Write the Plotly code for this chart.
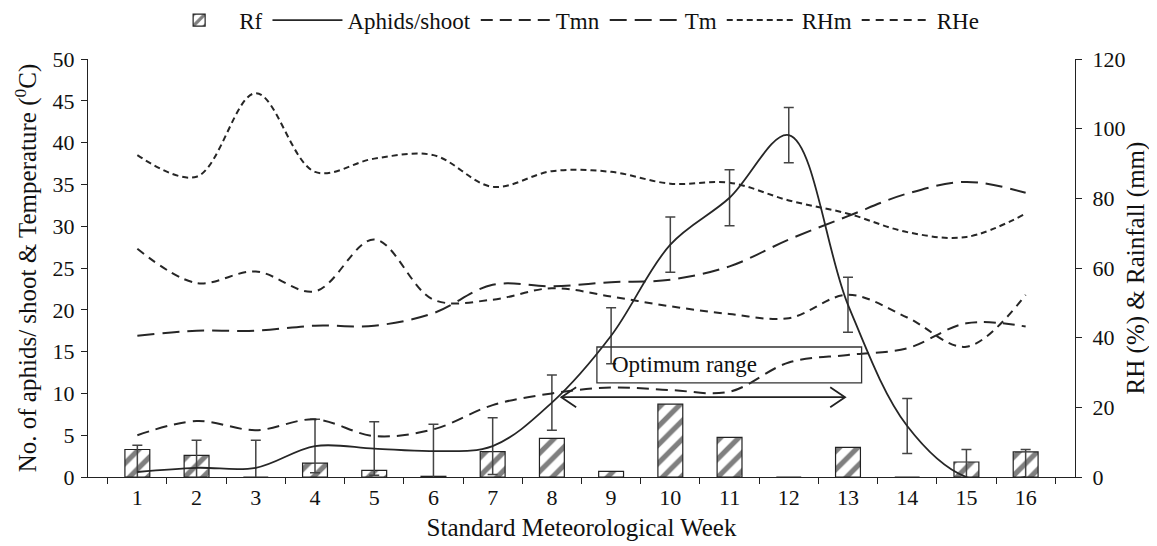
import plotly.graph_objects as go

weeks = [str(i) for i in range(1, 17)]
rainfall = [7.9, 6.2, 0, 4.0, 1.9, 0.2, 7.3, 11.1, 1.6, 20.9, 11.4, 0, 8.5, 0, 4.3, 7.2]
aphids = [0.6, 1.1, 1.1, 3.7, 3.4, 3.1, 3.7, 8.9, 16.9, 27.8, 33.4, 40.9, 20.6, 6.1, 0.0, 0.0]
aphids_err = [3.2, 3.3, 3.3, 3.2, 3.2, 3.2, 3.4, 3.3, 3.35, 3.3, 3.35, 3.3, 3.3, 3.3, 3.3, 3.3]
tmn = [5.0, 6.7, 5.6, 6.9, 4.9, 5.7, 8.6, 10.0, 10.7, 10.4, 10.2, 13.7, 14.6, 15.4, 18.4, 18.0]
tm = [16.9, 17.5, 17.5, 18.1, 18.1, 19.6, 23.0, 22.8, 23.3, 23.6, 25.2, 28.4, 31.2, 33.9, 35.3, 34.0]
rhm = [92.4, 86.2, 110.2, 87.6, 91.4, 92.4, 83.3, 87.8, 87.6, 84.2, 84.5, 79.4, 75.6, 70.3, 68.9, 75.6]
rhe = [65.5, 55.7, 59.0, 53.3, 68.2, 50.9, 50.9, 54.2, 51.8, 49.0, 46.8, 45.6, 52.3, 45.8, 37.4, 52.3]

FONT = "Liberation Serif, Times New Roman, serif"
LC = "#262626"
TICK = 22
TITLE = 25

fig = go.Figure()
fig.add_trace(go.Bar(
    x=weeks, y=rainfall, name="Rf", yaxis="y2", width=0.42,
    marker=dict(color="white", line=dict(color="#222", width=1.2),
                pattern=dict(shape="/", fgcolor="#000", bgcolor="white", size=13, solidity=0.4)),
))
fig.add_trace(go.Scatter(
    x=weeks, y=aphids, name="Aphids/shoot", mode="lines", yaxis="y",
    line=dict(color=LC, width=1.8, shape="spline", smoothing=1.0),
    error_y=dict(type="data", array=aphids_err, visible=True, color="#444", thickness=1.5, width=5),
))
fig.add_trace(go.Scatter(
    x=weeks, y=tmn, name="Tmn", mode="lines", yaxis="y",
    line=dict(color=LC, width=2, dash="12px,7px", shape="spline", smoothing=1.0),
))
fig.add_trace(go.Scatter(
    x=weeks, y=tm, name="Tm", mode="lines", yaxis="y",
    line=dict(color=LC, width=2, dash="17px,8px", shape="spline", smoothing=1.0),
))
fig.add_trace(go.Scatter(
    x=weeks, y=rhm, name="RHm", mode="lines", yaxis="y2",
    line=dict(color=LC, width=2, dash="6px,4px", shape="spline", smoothing=1.0),
))
fig.add_trace(go.Scatter(
    x=weeks, y=rhe, name="RHe", mode="lines", yaxis="y2",
    line=dict(color=LC, width=2, dash="8px,6px", shape="spline", smoothing=1.0),
))

# Optimum range box, label and double arrow (annotation, not data)
shapes = [
    dict(type="rect", xref="x", yref="y", x0=7.76, x1=12.23, y0=11.25, y1=15.55,
         line=dict(color="#333", width=1.3), fillcolor="rgba(0,0,0,0)"),
    dict(type="line", xref="x", yref="y", x0=7.16, x1=11.95, y0=9.55, y1=9.55,
         line=dict(color="#222", width=1.8)),
    dict(type="path", xref="x", yref="y",
         path="M 7.41 10.75 L 7.16 9.55 L 7.41 8.35", line=dict(color="#222", width=1.8)),
    dict(type="path", xref="x", yref="y",
         path="M 11.70 10.75 L 11.95 9.55 L 11.70 8.35", line=dict(color="#222", width=1.8)),
]
annotations = [
    dict(text="Optimum range", xref="x", yref="y", x=7.98, y=13.4, xanchor="left",
         yanchor="middle", showarrow=False, font=dict(family=FONT, size=23, color="#111")),
]

fig.update_layout(
    width=1149, height=538,
    margin=dict(l=80, r=82, t=51, b=69, autoexpand=False),
    paper_bgcolor="white", plot_bgcolor="white",
    font=dict(family=FONT, size=TICK, color="#111"),
    showlegend=True,
    legend=dict(orientation="h", x=0.49, xanchor="center", y=1.093, yanchor="middle",
                yref="paper", font=dict(family=FONT, size=23), itemwidth=70,
                tracegroupgap=0, bgcolor="rgba(0,0,0,0)"),
    barmode="overlay",
    xaxis=dict(type="category", tickson="boundaries", ticks="outside", ticklen=6,
               tickcolor="#222", showline=True, linecolor="#222", linewidth=1.3,
               showgrid=False, zeroline=False,
               title=dict(text="Standard Meteorological Week", standoff=9,
                          font=dict(family=FONT, size=TITLE)),
               tickfont=dict(family=FONT, size=TICK)),
    yaxis2=dict(side="right", range=[0, 120], dtick=20, ticks="outside", ticklen=6,
                tickcolor="#222", showline=True, linecolor="#222", linewidth=1.3,
                showgrid=False, zeroline=False, ticklabelstandoff=6,
                title=dict(text="RH (%) & Rainfall (mm)", standoff=1,
                           font=dict(family=FONT, size=TITLE)),
                tickfont=dict(family=FONT, size=TICK)),
    yaxis=dict(side="left", overlaying="y2", range=[0, 50], dtick=5, ticks="outside",
               ticklen=6, tickcolor="#222", showline=True, linecolor="#222", linewidth=1.3,
               showgrid=False, zeroline=False, ticklabelstandoff=2,
               title=dict(text="No. of aphids/ shoot &amp; Temperature (<sup>0</sup>C)", standoff=8,
                          font=dict(family=FONT, size=TITLE)),
               tickfont=dict(family=FONT, size=TICK)),
    shapes=shapes,
    annotations=annotations,
)

fig.write_html("out.html")
